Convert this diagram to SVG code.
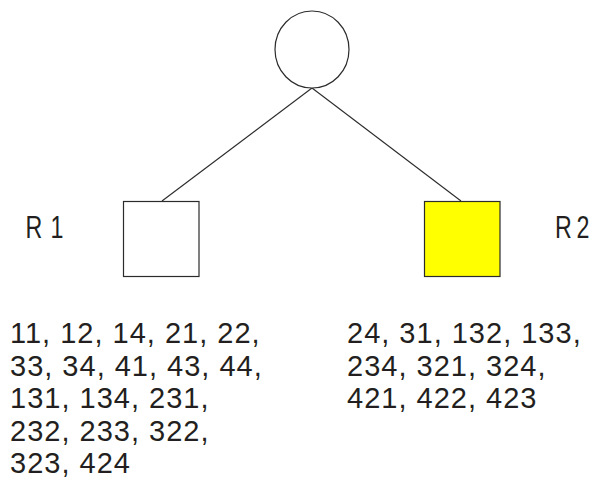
<svg xmlns="http://www.w3.org/2000/svg" width="594" height="488" viewBox="0 0 594 488">
<style>
.shape{fill:#ffffff;stroke:#2b2b2b;stroke-width:1.2}
.conn{fill:none;stroke:#2b2b2b;stroke-width:1.1}
.t{font-family:"Liberation Sans",Arial,sans-serif;font-size:29px;fill:#231f20;letter-spacing:1px}
.lbl{font-family:"Liberation Sans",Arial,sans-serif;font-size:31px;fill:#231f20}
</style>
<rect width="594" height="488" fill="#ffffff"/>
<g id="connectors">
<line class="conn" x1="312" y1="88" x2="162" y2="201"/>
<line class="conn" x1="312" y1="88" x2="461" y2="201"/>
</g>
<g id="root">
<ellipse class="shape" cx="312" cy="49.5" rx="37" ry="38.5"/>
</g>
<g id="R1">
<rect class="shape" x="123.5" y="201.5" width="75.5" height="75"/>
<text class="lbl" transform="translate(25.5,237.5) scale(0.75,1)"><tspan x="0">R</tspan><tspan x="33.3">1</tspan></text>
<text class="t" x="10" y="343">11, 12, 14, 21, 22,</text>
<text class="t" x="10" y="375.5">33, 34, 41, 43, 44,</text>
<text class="t" x="10" y="408">131, 134, 231,</text>
<text class="t" x="10" y="440.5">232, 233, 322,</text>
<text class="t" x="10" y="473">323, 424</text>
</g>
<g id="R2">
<rect class="shape" x="424.5" y="201.5" width="75.5" height="75" style="fill:#ffff00"/>
<text class="lbl" transform="translate(555,237.5) scale(0.75,1)"><tspan x="0">R</tspan><tspan x="28.6">2</tspan></text>
<text class="t" x="347" y="343">24, 31, 132, 133,</text>
<text class="t" x="347" y="375.5">234, 321, 324,</text>
<text class="t" x="347" y="408">421, 422, 423</text>
</g>
</svg>
